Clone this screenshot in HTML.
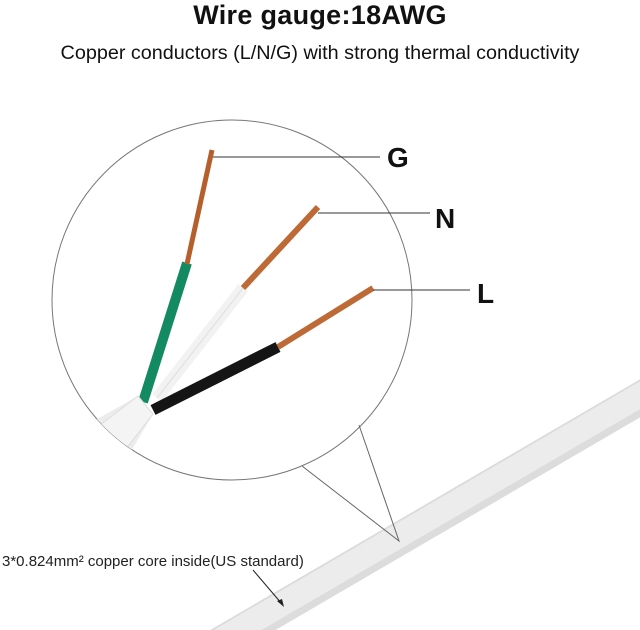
<!DOCTYPE html>
<html><head><meta charset="utf-8"><style>
body{margin:0;width:640px;height:630px;background:#fff;overflow:hidden;position:relative;font-family:"Liberation Sans",sans-serif}
.t{position:absolute;left:0;width:640px;text-align:center;color:#111}
</style></head><body>
<div class="t" style="top:0px;font-size:27px;font-weight:bold;letter-spacing:0.3px">Wire gauge:18AWG</div>
<div class="t" style="top:42px;font-size:19.8px">Copper conductors (L/N/G) with strong thermal conductivity</div>
<svg width="640" height="630" style="position:absolute;left:0;top:0">
<defs><clipPath id="cc"><circle cx="232" cy="300" r="180"/></clipPath></defs>
<line x1="680" y1="375" x2="200" y2="655" stroke="#dcdcdc" stroke-width="33"/>
<line x1="680" y1="372" x2="200" y2="652" stroke="#ececec" stroke-width="24"/>
<circle cx="232" cy="300" r="180" fill="#fff" stroke="#777" stroke-width="1"/>
<polyline points="302,466 399,541 359,425" fill="none" stroke="#666" stroke-width="1"/>
<g clip-path="url(#cc)">
<line x1="143" y1="402" x2="187" y2="263" stroke="#148a62" stroke-width="10"/>
<line x1="187" y1="264" x2="212" y2="150" stroke="#b5602c" stroke-width="5"/>
<line x1="157" y1="398" x2="243" y2="288" stroke="#f2f2f2" stroke-width="12"/>
<line x1="157" y1="398" x2="243" y2="288" stroke="#dedede" stroke-width="1"/>
<line x1="243" y1="288" x2="318" y2="207" stroke="#bd6a36" stroke-width="6"/>
<line x1="153" y1="410" x2="278" y2="347" stroke="#151515" stroke-width="11"/>
<line x1="278" y1="347" x2="373" y2="288" stroke="#bd6a36" stroke-width="6"/>
<path d="M138,396 L153,414 L120,470 L60,440 Z" fill="#ececec"/>
<path d="M138,396 L153,414 L125,450 L100,425 Z" fill="#f4f4f4" stroke="#ddd"/>
</g>
<line x1="213" y1="157" x2="380" y2="157" stroke="#333"/>
<line x1="318" y1="213" x2="430" y2="213" stroke="#333"/>
<line x1="373" y1="290" x2="470" y2="290" stroke="#333"/>
<text x="387" y="167" font-family="Liberation Sans" font-weight="bold" font-size="28" fill="#111">G</text>
<text x="435" y="228" font-family="Liberation Sans" font-weight="bold" font-size="28" fill="#111">N</text>
<text x="477" y="303" font-family="Liberation Sans" font-weight="bold" font-size="28" fill="#111">L</text>
<text x="2" y="566" font-family="Liberation Sans" font-size="15" fill="#222">3*0.824mm² copper core  inside(US standard)</text>
<line x1="253" y1="570" x2="282" y2="604" stroke="#222"/>
<path d="M284,607 L277,601 L282,599 Z" fill="#222"/>
</svg>
</body></html>
